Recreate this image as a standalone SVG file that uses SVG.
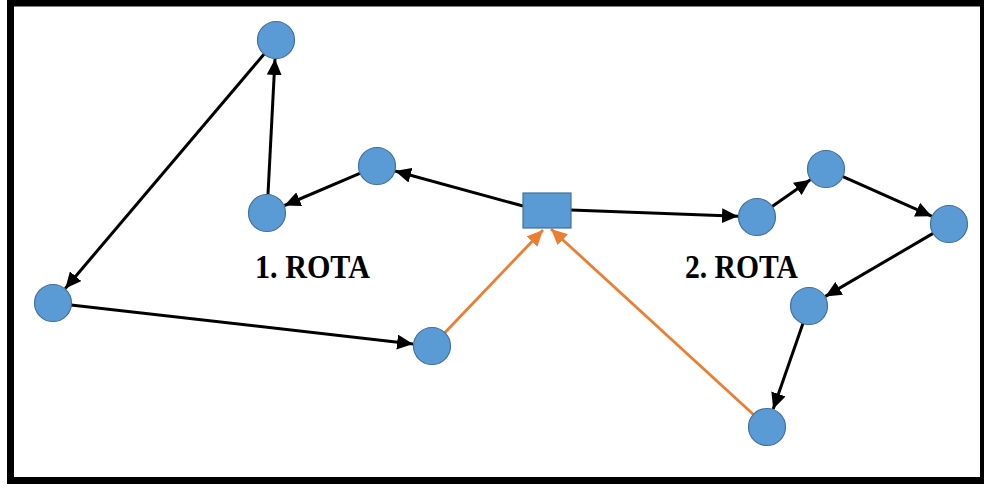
<svg xmlns="http://www.w3.org/2000/svg" width="984" height="488" viewBox="0 0 984 488">
  <style>
    .node { fill: #5B9BD5; stroke: #41719C; stroke-width: 1.2; }
    .edge { fill: none; stroke: #000; stroke-width: 3; }
    .back { fill: none; stroke: #ED7D31; stroke-width: 2.8; }
    .label { font-family: "Liberation Serif", "Times New Roman", serif; font-weight: bold; font-size: 33px; fill: #000; }
  </style>
  <defs>
    <marker id="arrowBlack" markerUnits="userSpaceOnUse" markerWidth="17" markerHeight="15" refX="16" refY="7.5" orient="auto">
      <path d="M0,0 L16,7.5 L0,15 z" fill="#000"/>
    </marker>
    <marker id="arrowOrange" markerUnits="userSpaceOnUse" markerWidth="17" markerHeight="15" refX="16" refY="7.5" orient="auto">
      <path d="M0,0 L16,7.5 L0,15 z" fill="#ED7D31"/>
    </marker>
  </defs>

  <rect width="984" height="488" fill="#fff"/>
  <!-- outer frame -->
  <rect x="10.5" y="3" width="973" height="477.5" fill="none" stroke="#000" stroke-width="7"/>

  <!-- connectors -->
  <g id="connectors">
    <line class="edge" x1="523" y1="206" x2="395" y2="171" marker-end="url(#arrowBlack)"/>
    <line class="edge" x1="360.4" y1="173.1" x2="284.5" y2="205.5" marker-end="url(#arrowBlack)"/>
    <line class="edge" x1="268" y1="194" x2="275" y2="59" marker-end="url(#arrowBlack)"/>
    <line class="edge" x1="264.4" y1="53.7" x2="65.3" y2="288.5" marker-end="url(#arrowBlack)"/>
    <line class="edge" x1="70.9" y1="305" x2="413.1" y2="343.9" marker-end="url(#arrowBlack)"/>
    <line class="back" x1="444.5" y1="333" x2="543" y2="230" marker-end="url(#arrowOrange)"/>
    <line class="edge" x1="571" y1="210" x2="738" y2="216.3" marker-end="url(#arrowBlack)"/>
    <line class="edge" x1="771.8" y1="206.7" x2="810.4" y2="179.8" marker-end="url(#arrowBlack)"/>
    <line class="edge" x1="842.4" y1="176.3" x2="931.7" y2="216.2" marker-end="url(#arrowBlack)"/>
    <line class="edge" x1="933.5" y1="233.1" x2="825.4" y2="296.4" marker-end="url(#arrowBlack)"/>
    <line class="edge" x1="803.1" y1="323" x2="773.2" y2="409" marker-end="url(#arrowBlack)"/>
    <line class="back" x1="753.7" y1="414.8" x2="551" y2="229" marker-end="url(#arrowOrange)"/>
  </g>

  <!-- depot -->
  <g id="depot"><rect class="node" x="523" y="193" width="48" height="35"/></g>

  <!-- route 1 -->
  <g id="n1"><circle class="node" cx="377" cy="166" r="18.5"/></g>
  <g id="n2"><circle class="node" cx="267" cy="213" r="18.5"/></g>
  <g id="n3"><circle class="node" cx="276" cy="40" r="18.5"/></g>
  <g id="n4"><circle class="node" cx="53" cy="303" r="18.5"/></g>
  <g id="n5"><circle class="node" cx="432" cy="346" r="18.5"/></g>

  <!-- route 2 -->
  <g id="n6"><circle class="node" cx="757" cy="217" r="18.5"/></g>
  <g id="n7"><circle class="node" cx="826" cy="169" r="18.5"/></g>
  <g id="n8"><circle class="node" cx="949" cy="224" r="18.5"/></g>
  <g id="n9"><circle class="node" cx="809" cy="306" r="18.5"/></g>
  <g id="n10"><circle class="node" cx="767" cy="427" r="18.5"/></g>

  <g id="labels">
    <text class="label" x="255" y="278" textLength="115" lengthAdjust="spacingAndGlyphs">1. ROTA</text>
    <text class="label" x="685" y="278" textLength="113" lengthAdjust="spacingAndGlyphs">2. ROTA</text>
  </g>
</svg>
